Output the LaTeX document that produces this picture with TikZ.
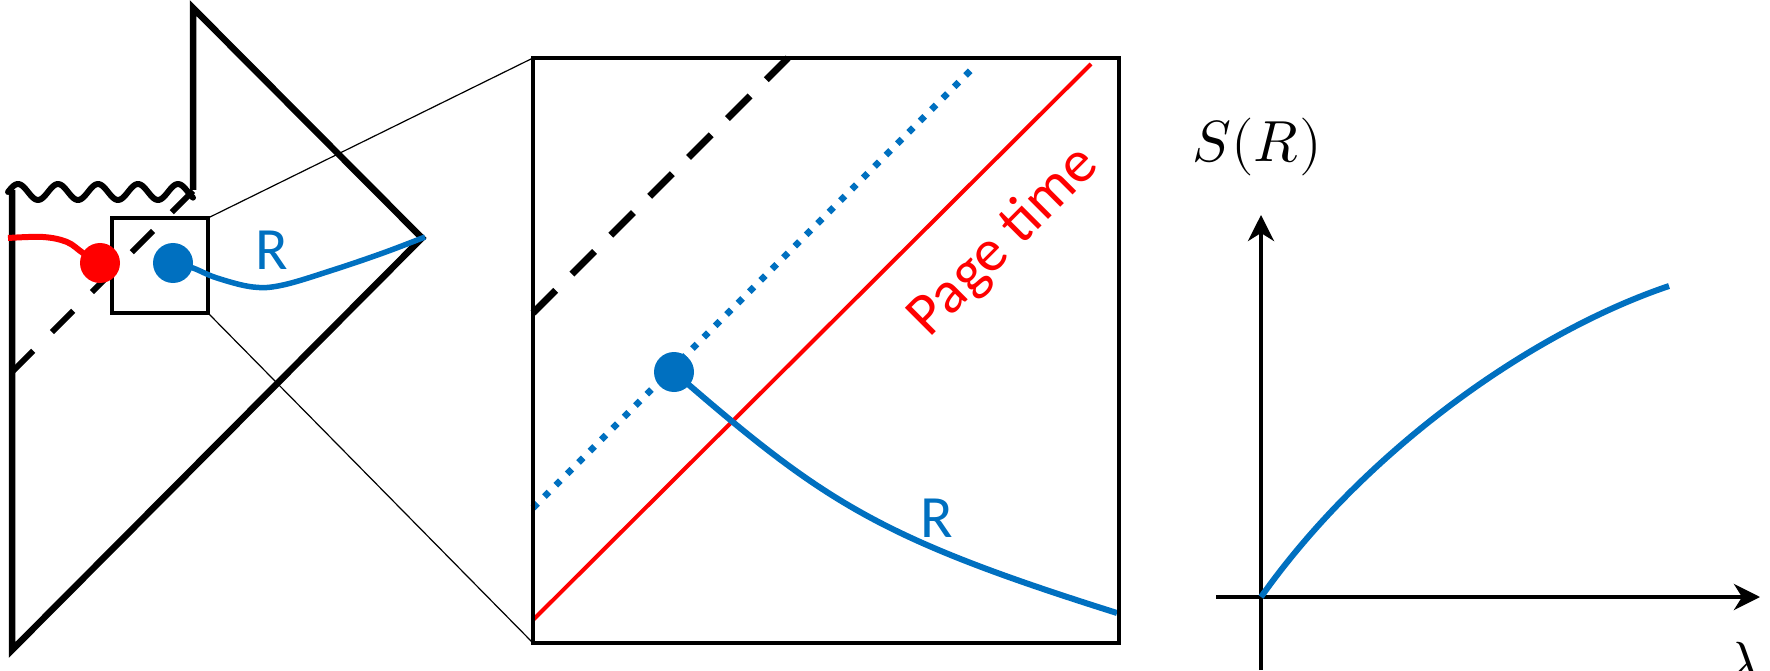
\documentclass[tikz,border=0pt]{standalone}
\usepackage{fontspec}
\usepackage{unicode-math}
\usetikzlibrary{arrows.meta}
\newfontfamily\carlito{Carlito}
\definecolor{oblue}{HTML}{0070C0}
\definecolor{ored}{HTML}{FF0000}
\tikzset{
  thickblack/.style={line width=6.5pt, line cap=butt},
  blackdash/.style={line width=6pt, dash pattern=on 30pt off 26.5pt},
  bigdash/.style={line width=7pt, dash pattern=on 32pt off 23pt},
  bluedot/.style={line width=6.5pt, oblue, dash pattern=on 6.5pt off 9.6pt},
  bluecurve/.style={line width=6pt, oblue},
  frame/.style={line width=3.2pt},
  zoomline/.style={line width=1.2pt},
  axis/.style={line width=4pt, -{Stealth[length=26pt, width=26pt, inset=8pt]}},
  lbl/.style={font=\carlito\fontsize{60}{60}\selectfont, inner sep=0pt},
  mathlbl/.style={font=\fontsize{58}{58}\selectfont, inner sep=0pt},
}
\begin{document}
\begin{tikzpicture}[x=1pt,y=-1pt]
\useasboundingbox (0,0) rectangle (1770,671);
% ---------- left Penrose-like diagram ----------
\coordinate (BL) at (12,650);
\coordinate (TLv) at (12,190);
\coordinate (Top) at (193,8);
\coordinate (TopB) at (193,190);
\coordinate (Tip) at (422,238);
\draw[thickblack] (TLv) -- (BL) -- (Tip) -- (Top) -- (TopB);
\draw[line width=6pt, line cap=round, line join=round]
  plot[domain=8:193, samples=100] (\x, {192 - 8*cos(9*(\x-18))});
% dashed horizon
\coordinate (DL) at (12,372);
\coordinate (DR) at (193,191);
\draw[blackdash] (DL) -- (DR);
% small box
\coordinate (sb1) at (112,218);
\coordinate (sb2) at (208,313);
\draw[line width=3.3pt] (sb1) rectangle (sb2);
% red curve and dot
\draw[line width=6pt, ored] plot[smooth, tension=0.6] coordinates {(8,238) (43,237) (67,242) (83,253) (100,263)};
\node[circle, fill=ored, minimum size=40pt, inner sep=0pt] (reddot) at (100,263) {};
% blue curve and dot
\draw[line width=5.5pt, oblue] plot[smooth, tension=0.6] coordinates {(175,263) (193,268) (217,278) (253,287) (283,285) (333,270) (383,253) (425,237)};
\node[circle, fill=oblue, minimum size=40pt, inner sep=0pt] (bluedotL) at (173,263) {};
\node[lbl, text=oblue] (Rleft) at (272,250) {R};
% ---------- big zoom box ----------
\coordinate (B1) at (533,58);
\coordinate (B2) at (1119,643);
\coordinate (B1b) at (533,643);
\draw[zoomline] (sb2 |- sb1) -- (B1);
\draw[zoomline] (sb2) -- (B1b);
\draw[bigdash] (533,313) -- (788,58);
\draw[bluedot] (533,508) -- (975,66);
\draw[line width=4pt, ored] (533,620) -- (1091,64);
\coordinate (bc0) at (674,372);
\coordinate (bc1) at (1117,613);
\draw[bluecurve] (bc0) .. controls (825,503) and (879,538) .. (bc1);
\node[circle, fill=oblue, minimum size=40pt, inner sep=0pt] (bluedotR) at (bc0) {};
\draw[frame] (B1) rectangle (B2);
\node[lbl, text=oblue] (Rright) at (937,518) {R};
\node[lbl, text=ored, rotate=45] (page) at (1004,242) {Page time};
% ---------- entropy plot ----------
\coordinate (O) at (1261,597);
\coordinate (Ybot) at (1261,670);
\coordinate (Ytop) at (1261,215);
\coordinate (Xl) at (1216,597);
\coordinate (Xr) at (1760,597);
\coordinate (Cend) at (1669,286);
\draw[axis] (Ybot) -- (Ytop);
\draw[axis] (Xl) -- (Xr);
\draw[bluecurve] (O) .. controls (1362,454) and (1527,334) .. (Cend);
\node[mathlbl] (SR) at (1257,147) {$S(R)$};
\node[mathlbl, anchor=north] (lam) at (1743,642) {$\lambda$};
\end{tikzpicture}
\end{document}
